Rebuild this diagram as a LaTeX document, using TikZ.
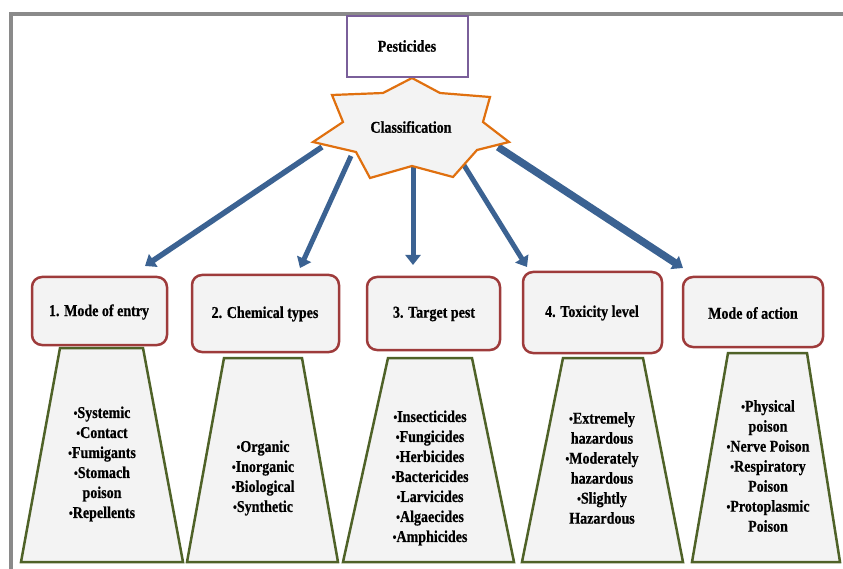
\documentclass[tikz,border=0pt]{standalone}
\usepackage{fontspec}
\setmainfont{Liberation Serif}[FakeStretch=0.85, BoldFeatures={FakeBold=0.6}]
\usetikzlibrary{arrows.meta}
\definecolor{framegray}{HTML}{8A8A8A}
\definecolor{arrblue}{HTML}{3B6292}
\definecolor{starorange}{HTML}{E0700F}
\definecolor{boxfill}{HTML}{F3F3F3}
\definecolor{boxred}{HTML}{9E3B3B}
\definecolor{trapgreen}{HTML}{4F6228}
\definecolor{purp}{HTML}{7A5F9A}
\newcommand{\bl}{{\fontsize{13}{13}\selectfont\raisebox{0.5pt}{•}}}
\tikzset{
  hdrbox/.style={draw=boxred, fill=boxfill, line width=2.5pt, rounded corners=10pt},
  trapbox/.style={draw=trapgreen, fill=boxfill, line width=2.5pt, line join=miter},
  lbl/.style={font=\bfseries\fontsize{16.5}{20}\selectfont, align=center, inner sep=0pt},
  arr/.style={draw=arrblue, line width=5.5pt, -{Triangle[width=15pt,length=10pt]}},
}
\begin{document}
\begin{tikzpicture}[x=1pt,y=-1pt]
\useasboundingbox (0,0) rectangle (843,569);
% frame
\draw[framegray, line width=4pt] (11,571) -- (11,14) -- (845,14);
% arrow coordinates
\coordinate (s1) at (322,147);
\coordinate (s2) at (351,156);
\coordinate (s3) at (413,166);
\coordinate (s4) at (462,162);
\coordinate (s5) at (498,147);
\coordinate (t1) at (145,266);
\coordinate (t2) at (300,268);
\coordinate (t3) at (413,265);
\coordinate (t4) at (527,267);
\coordinate (t5) at (683,268);
\draw[arr] (s1) -- (t1);
\draw[arr, line width=5pt] (s2) -- (t2);
\draw[arr, line width=5pt] (s3) -- (t3);
\draw[arr, line width=5pt] (s4) -- (t4);
\draw[arr, line width=7.5pt] (s5) -- (t5);
% star
\draw[starorange, fill=boxfill, line width=2.2pt, line join=miter]
  (412,78) -- (440,93) -- (490,97) -- (483,122) -- (509,142) -- (477,150)
  -- (453,177) -- (412,166) -- (370,178) -- (356,152) -- (313,142)
  -- (343,122) -- (332,95) -- (383,93) -- cycle;
\node[lbl] (cls) at (411,127) {Classification};
% pesticides
\draw[purp, fill=white, line width=1.5pt] (347,16) rectangle (468,77);
\node[lbl] (pest) at (407,46) {Pesticides};
% header boxes
\draw[hdrbox] (32,277) rectangle (167,345);
\draw[hdrbox] (192,275) rectangle (339,352);
\draw[hdrbox] (367,277) rectangle (500,350);
\draw[hdrbox] (523,272) rectangle (662,353);
\draw[hdrbox] (683,277) rectangle (823,347);
\node[lbl] (h1) at (99,312) {1. Mode of entry};
\node[lbl] (h2) at (265,314) {2. Chemical types};
\node[lbl] (h3) at (434,314) {3. Target pest};
\node[lbl] (h4) at (592,313) {4. Toxicity level};
\node[lbl] (h5) at (753,313) {Mode of action};
% trapezoids
\draw[trapbox] (60,348) -- (143,348) -- (183,562) -- (21,562) -- cycle;
\draw[trapbox] (224,358) -- (302,358) -- (338,562) -- (187,562) -- cycle;
\draw[trapbox] (388,358) -- (472,358) -- (514,562) -- (343,562) -- cycle;
\draw[trapbox] (563,358) -- (643,358) -- (683,562) -- (522,562) -- cycle;
\draw[trapbox] (728,353) -- (807,353) -- (840,562) -- (692,562) -- cycle;
\node[lbl] (l1) at (102,464) {\bl Systemic\\\bl Contact\\\bl Fumigants\\\bl Stomach\\poison\\\bl Repellents};
\node[lbl] (l2) at (263,478) {\bl Organic\\\bl Inorganic\\\bl Biological\\\bl Synthetic};
\node[lbl] (l3) at (430,478) {\bl Insecticides\\\bl Fungicides\\\bl Herbicides\\\bl Bactericides\\\bl Larvicides\\\bl Algaecides\\\bl Amphicides};
\node[lbl] (l4) at (602,468) {\bl Extremely\\hazardous\\\bl Moderately\\hazardous\\\bl Slightly\\Hazardous};
\node[lbl] (l5) at (768,466) {\bl Physical\\poison\\\bl Nerve Poison\\\bl Respiratory\\Poison\\\bl Protoplasmic\\Poison};
\end{tikzpicture}
\end{document}
